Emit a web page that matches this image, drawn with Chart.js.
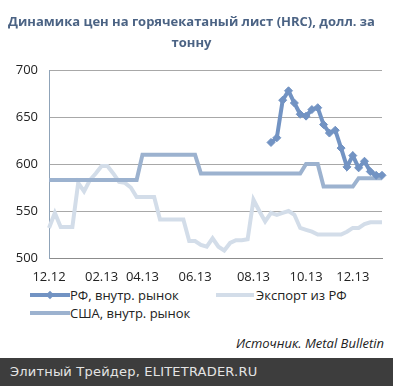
<!DOCTYPE html>
<html>
<head>
<meta charset="utf-8">
<script src="https://cdn.jsdelivr.net/npm/chart.js@4.4.0/dist/chart.umd.min.js"></script>
<style>
  html, body { margin: 0; padding: 0; background: #fff; }
  #wrap { position: relative; width: 393px; height: 386px; overflow: hidden; font-family: "Open Sans", sans-serif; }
  #chart { position: absolute; left: 0; top: 0; }
  .leg { position: absolute; font-size: 13px; color: #222; line-height: 16px; white-space: nowrap; }
  .leg .ln { position: absolute; top: 6px; height: 4px; }
  .leg .dia { position: absolute; width: 6px; height: 6px; transform: rotate(45deg); top: 5px; }
  #source { position: absolute; right: 9px; top: 334px; font-size: 13px; font-style: italic; color: #222; }
  #footer { position: absolute; left: 0; top: 358px; width: 393px; height: 28px; background: #3d3d3d; }
  #footer span { position: absolute; left: 10px; top: 6px; font-family: "DejaVu Sans", sans-serif; font-size: 13px; color: #e4e4e4; letter-spacing: 0.2px; }
</style>
</head>
<body>
<div id="wrap">
  <canvas id="chart" width="393" height="285"></canvas>

  <div class="leg" style="left:30px; top:287px;">
    <span class="ln" style="left:0; width:40px; background:#7293c3;"></span>
    <span class="dia" style="left:17px; background:#7293c3;"></span>
    <span style="margin-left:40px;">РФ, внутр. рынок</span>
  </div>
  <div class="leg" style="left:216px; top:287px;">
    <span class="ln" style="left:0; width:38px; background:#d3dde9;"></span>
    <span style="margin-left:40px;">Экспорт из РФ</span>
  </div>
  <div class="leg" style="left:30px; top:305px;">
    <span class="ln" style="left:0; width:40px; background:#9cb2cf;"></span>
    <span style="margin-left:40px;">США, внутр. рынок</span>
  </div>

  <div id="source">Источник. Metal Bulletin</div>
  <div id="footer"><span>Элитный Трейдер, ELITETRADER.RU</span></div>
</div>

<script>
// weekly points, Dec 2012 .. early Jan 2014
const weekCount = 58;
const tickLabels = ["12.12", "02.13", "04.13", "06.13", "08.13", "10.13", "12.13"];
const tickWeeks = [0, 9, 16, 25, 35, 44, 52];

// РФ, внутр. рынок - starts in Sep 2013
const rfStartWeek = 38;
const rfValues = [623, 628, 668, 678, 665, 653, 651, 658, 660, 642,
                  633, 636, 617, 597, 609, 596, 603, 592, 588, 588];

const exportValues = [532, 548, 533, 533, 533, 580, 571, 583, 590, 598,
                      598, 590, 581, 580, 575, 565, 565, 565, 565, 541,
                      541, 541, 541, 541, 518, 518, 514, 512, 521, 512,
                      508, 516, 519, 519, 520, 562, 550, 539, 548, 546,
                      548, 550, 546, 532, 530, 528, 525, 525, 525, 525,
                      525, 528, 532, 532, 536, 538, 538, 538];

const usValues = [583, 583, 583, 583, 583, 583, 583, 583, 583, 583,
                  583, 583, 583, 583, 583, 583, 610, 610, 610, 610,
                  610, 610, 610, 610, 610, 610, 590, 590, 590, 590,
                  590, 590, 590, 590, 590, 590, 590, 590, 590, 590,
                  590, 590, 590, 590, 600, 600, 600, 576, 576, 576,
                  576, 576, 576, 585, 585, 585, 585, 585];

const labels = [];
for (let i = 0; i < weekCount; i++) {
  const k = tickWeeks.indexOf(i);
  labels.push(k >= 0 ? tickLabels[k] : "");
}
const rfData = [];
for (let i = 0; i < weekCount; i++) {
  rfData.push(i >= rfStartWeek ? rfValues[i - rfStartWeek] : null);
}

const ctx = document.getElementById("chart");
new Chart(ctx, {
  type: "line",
  data: {
    labels: labels,
    datasets: [
      {
        label: "РФ, внутр. рынок",
        data: rfData,
        borderColor: "#7293c3",
        backgroundColor: "#7293c3",
        borderWidth: 4,
        pointStyle: "rectRot",
        pointRadius: 4,
        pointBorderWidth: 1,
        tension: 0,
        order: 0
      },
      {
        label: "Экспорт из РФ",
        data: exportValues,
        borderColor: "#d3dde9",
        borderWidth: 4,
        pointRadius: 0,
        tension: 0,
        order: 2
      },
      {
        label: "США, внутр. рынок",
        data: usValues,
        borderColor: "#9cb2cf",
        borderWidth: 4,
        pointRadius: 0,
        tension: 0,
        order: 1
      }
    ]
  },
  options: {
    responsive: false,
    devicePixelRatio: 1,
    animation: false,
    layout: { padding: { left: 0, right: 10, top: 0, bottom: 0 } },
    plugins: {
      legend: { display: false },
      tooltip: { enabled: false },
      title: {
        display: true,
        text: ["Динамика цен на горячекатаный лист (HRC), долл. за", "тонну"],
        color: "#4b6384",
        font: { family: "Open Sans", size: 13, weight: "bold", lineHeight: 1.62 },
        padding: { top: 12, bottom: 16 }
      }
    },
    scales: {
      x: {
        grid: { display: false, drawTicks: false },
        border: { color: "#8c8c8c", width: 1 },
        ticks: {
          autoSkip: false,
          maxRotation: 0,
          padding: 11,
          color: "#222",
          font: { family: "Open Sans", size: 13 }
        },
        afterFit: (scale) => { scale.height = 27; }
      },
      y: {
        min: 500,
        max: 700,
        grid: { color: "#a8a8a8", drawTicks: false },
        border: { color: "#8fa3b8", width: 1 },
        ticks: {
          stepSize: 50,
          padding: 11,
          color: "#222",
          font: { family: "Open Sans", size: 13 }
        },
        afterFit: (scale) => { scale.width = 49; }
      }
    }
  }
});
</script>
</body>
</html>
